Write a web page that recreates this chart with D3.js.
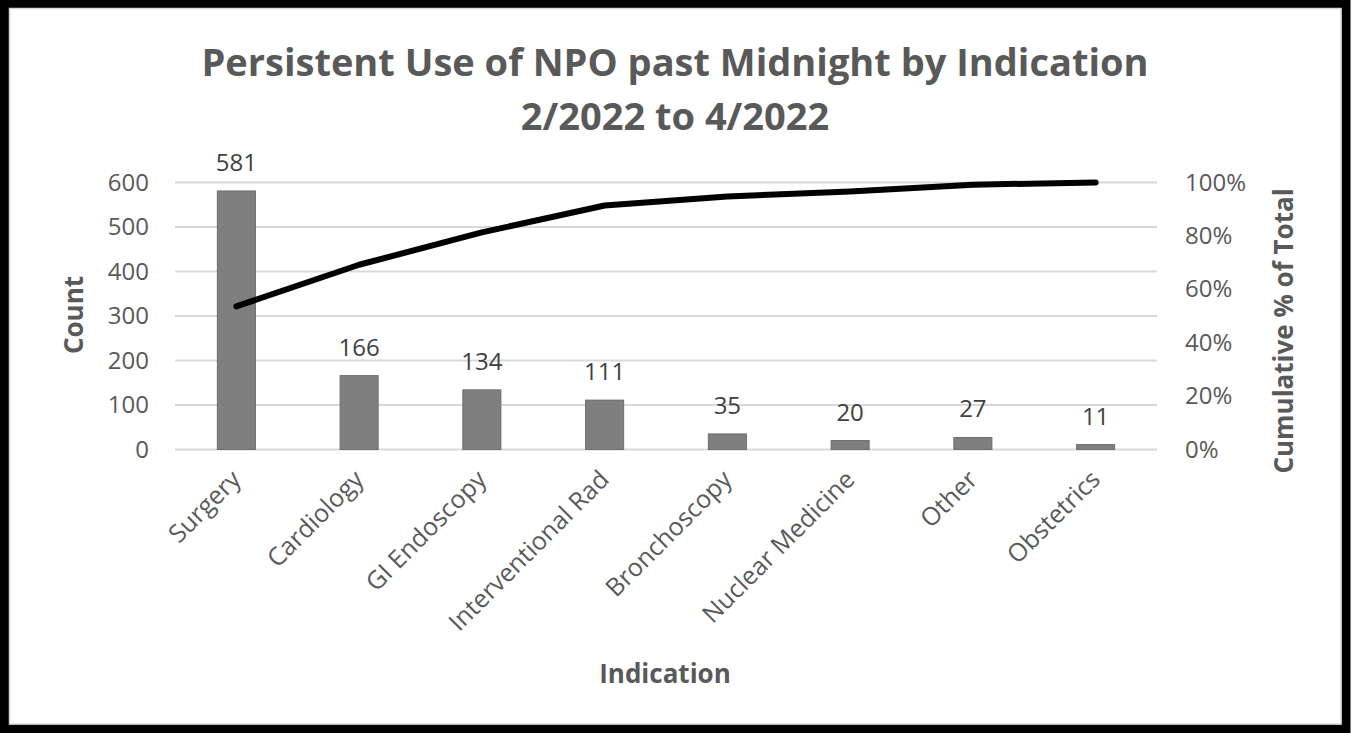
<!DOCTYPE html>
<html>
<head>
<meta charset="utf-8">
<script src="https://cdn.jsdelivr.net/npm/d3@7"></script>
<style>
body { margin: 0; background: #fff; }
text { font-family: "Open Sans", sans-serif; }
</style>
</head>
<body>
<div class="chart_div"></div>
<script>
var categories = ["Surgery","Cardiology","GI Endoscopy","Interventional Rad","Bronchoscopy","Nuclear Medicine","Other","Obstetrics"];
var counts = [581,166,134,111,35,20,27,11];
// cumulative %
var cumPct = [53.6,69.2,81.3,91.4,94.8,96.6,99.2,100];
var countTicks = [0,100,200,300,400,500,600];
var pctTicks = [0,20,40,60,80,100];
var titleLines = ["Persistent Use of NPO past Midnight by Indication","2/2022 to 4/2022"];

var W = 1351, H = 733;
var svg = d3.select(".chart_div").append("svg")
			.attr("width",W)
			.attr("height",H);

// frame
svg.append("rect")
	.attr("x",4.5).attr("y",4)
	.attr("width",W-9.5).attr("height",H-8)
	.attr("fill","#fff")
	.attr("stroke","#000")
	.attr("stroke-width",9);
svg.append("rect")
	.attr("x",9.5).attr("y",8.5)
	.attr("width",W-19.5).attr("height",H-17.5)
	.attr("fill","none")
	.attr("stroke","#d4d4d4")
	.attr("stroke-width",1.5);

var x = d3.scaleBand()
		.domain(categories)
		.range([175,1157])
		.paddingInner(0.69)
		.paddingOuter(0.345);

var y = d3.scaleLinear().domain([0,600]).range([449.5,182.5]);
var y2 = d3.scaleLinear().domain([0,100]).range([449.5,182.5]);

// gridlines
svg.append("g")
	.selectAll("line")
	.data(countTicks)
	.enter()
	.append("line")
	.attr("x1",175).attr("x2",1157)
	.attr("y1",function(d){ return y(d); })
	.attr("y2",function(d){ return y(d); })
	.attr("stroke","#d9d9d9")
	.attr("stroke-width",2);

// left axis
var leftAxis = svg.append("g")
	.attr("transform","translate(149,0)")
	.call(d3.axisLeft(y).tickValues(countTicks).tickSize(0).tickPadding(0));
leftAxis.select(".domain").remove();
leftAxis.selectAll("text")
	.attr("font-size",24)
	.attr("fill","#595959")
	.style("font-family","'Open Sans', sans-serif");

// right axis
var rightAxis = svg.append("g")
	.attr("transform","translate(1185,0)")
	.call(d3.axisRight(y2).tickValues(pctTicks).tickSize(0).tickPadding(0)
		.tickFormat(function(d){ return d + "%"; }));
rightAxis.select(".domain").remove();
rightAxis.selectAll("text")
	.attr("font-size",24)
	.attr("fill","#595959")
	.style("font-family","'Open Sans', sans-serif");

// bars
svg.append("g")
	.selectAll("rect")
	.data(counts)
	.enter()
	.append("rect")
	.attr("x",function(d,i){ return x(categories[i]); })
	.attr("width",x.bandwidth())
	.attr("y",function(d){ return y(d); })
	.attr("height",function(d){ return y(0) - y(d); })
	.attr("fill","#7f7f7f")
	.attr("stroke","#6d6d6d")
	.attr("stroke-width",1);

// bar value labels
svg.append("g")
	.selectAll("text")
	.data(counts)
	.enter()
	.append("text")
	.attr("x",function(d,i){ return x(categories[i]) + x.bandwidth()/2; })
	.attr("y",function(d){ return y(d) - 20; })
	.attr("text-anchor","middle")
	.attr("font-size",24)
	.attr("fill","#404040")
	.text(function(d){ return d; });

// cumulative line
var line = d3.line()
	.x(function(d,i){ return x(categories[i]) + x.bandwidth()/2; })
	.y(function(d){ return y2(d); });

svg.append("path")
	.datum(cumPct)
	.attr("d",line)
	.attr("fill","none")
	.attr("stroke","#000")
	.attr("stroke-width",6)
	.attr("stroke-linejoin","round")
	.attr("stroke-linecap","round");

// x labels
svg.append("g")
	.selectAll("text")
	.data(categories)
	.enter()
	.append("text")
	.attr("transform",function(d){
		return "translate(" + (x(d) + x.bandwidth()/2 + 6) + ",481) rotate(-45)";
	})
	.attr("text-anchor","end")
	.attr("font-size",25)
	.attr("fill","#595959")
	.text(function(d){ return d; });

// title
svg.append("g")
	.selectAll("text")
	.data(titleLines)
	.enter()
	.append("text")
	.attr("x",675)
	.attr("y",function(d,i){ return 76 + i*54; })
	.attr("text-anchor","middle")
	.attr("font-size",38)
	.attr("font-weight","bold")
	.attr("fill","#595959")
	.text(function(d){ return d; });

// axis titles
svg.append("text")
	.attr("transform","translate(83,315) rotate(-90)")
	.attr("text-anchor","middle")
	.attr("font-size",26)
	.attr("font-weight","bold")
	.attr("fill","#595959")
	.text("Count");

svg.append("text")
	.attr("transform","translate(1293,331) rotate(-90)")
	.attr("text-anchor","middle")
	.attr("font-size",26)
	.attr("font-weight","bold")
	.attr("fill","#595959")
	.text("Cumulative % of Total");

svg.append("text")
	.attr("x",665)
	.attr("y",683)
	.attr("text-anchor","middle")
	.attr("font-size",26)
	.attr("font-weight","bold")
	.attr("fill","#595959")
	.text("Indication");
</script>
</body>
</html>
